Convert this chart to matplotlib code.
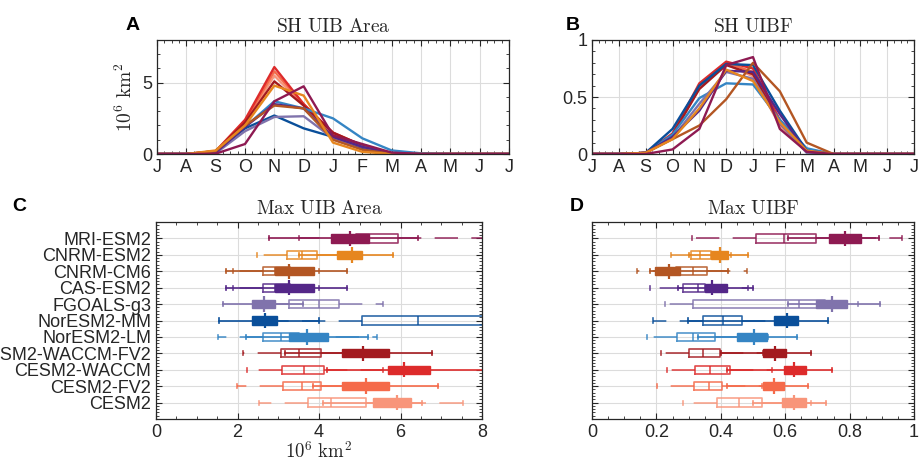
import numpy as np
import matplotlib
matplotlib.use('Agg')
import matplotlib.pyplot as plt
from matplotlib.ticker import MultipleLocator, AutoMinorLocator

plt.rcParams['font.family'] = ['Liberation Sans', 'DejaVu Sans']
plt.rcParams['mathtext.fontset'] = 'cm'

# ---- data ----
MONTHS = ['J', 'A', 'S', 'O', 'N', 'D', 'J', 'F', 'M', 'A', 'M', 'J', 'J']

MODELS = ['MRI-ESM2', 'CNRM-ESM2', 'CNRM-CM6', 'CAS-ESM2', 'FGOALS-g3',
          'NorESM2-MM', 'NorESM2-LM', 'CESM2-WACCM-FV2', 'CESM2-WACCM',
          'CESM2-FV2', 'CESM2']

COLORS = ['#8E1A52', '#E6861F', '#B35623', '#542788', '#8073AC',
          '#0A4F9A', '#3585C4', '#A31A1F', '#DD2B2B', '#F56A4A', '#F8957A']

# monthly climatology, Jul -> Jul
sh_area = [
    [0, 0, 0.02, 0.70, 3.70, 4.75, 1.30, 0.70, 0.10, 0, 0, 0, 0],
    [0, 0, 0.25, 2.00, 4.80, 4.10, 0.80, 0.15, 0.00, 0, 0, 0, 0],
    [0, 0, 0.20, 2.00, 3.40, 3.20, 1.00, 0.30, 0.02, 0, 0, 0, 0],
    [0, 0, 0.10, 1.90, 3.50, 3.20, 1.20, 0.50, 0.05, 0, 0, 0, 0],
    [0, 0, 0.05, 1.60, 2.60, 2.65, 1.10, 0.50, 0.05, 0, 0, 0, 0],
    [0, 0, 0.10, 1.80, 2.70, 1.80, 1.20, 0.40, 0.05, 0, 0, 0, 0],
    [0, 0, 0.10, 1.90, 3.70, 3.20, 2.50, 1.10, 0.25, 0.05, 0, 0, 0],
    [0, 0, 0.20, 2.20, 5.10, 3.40, 1.50, 0.60, 0.05, 0, 0, 0, 0],
    [0, 0, 0.20, 2.40, 6.10, 3.50, 1.50, 0.60, 0.05, 0, 0, 0, 0],
    [0, 0, 0.15, 2.30, 5.80, 3.50, 1.40, 0.50, 0.05, 0, 0, 0, 0],
    [0, 0, 0.15, 2.20, 5.50, 3.40, 1.30, 0.45, 0.05, 0, 0, 0, 0],
]

sh_uibf = [
    [0, 0, 0.00, 0.04, 0.22, 0.78, 0.85, 0.22, 0.02, 0, 0, 0, 0],
    [0, 0, 0.01, 0.13, 0.40, 0.74, 0.64, 0.28, 0.03, 0, 0, 0, 0],
    [0, 0, 0.01, 0.13, 0.25, 0.48, 0.80, 0.55, 0.10, 0, 0, 0, 0],
    [0, 0, 0.01, 0.15, 0.38, 0.73, 0.72, 0.35, 0.02, 0, 0, 0, 0],
    [0, 0, 0.01, 0.14, 0.44, 0.72, 0.66, 0.27, 0.01, 0, 0, 0, 0],
    [0, 0, 0.01, 0.22, 0.60, 0.79, 0.78, 0.38, 0.03, 0, 0, 0, 0],
    [0, 0, 0.01, 0.17, 0.49, 0.62, 0.61, 0.30, 0.05, 0, 0, 0, 0],
    [0, 0, 0.01, 0.17, 0.57, 0.78, 0.70, 0.27, 0.02, 0, 0, 0, 0],
    [0, 0, 0.01, 0.18, 0.62, 0.81, 0.75, 0.30, 0.02, 0, 0, 0, 0],
    [0, 0, 0.01, 0.17, 0.60, 0.80, 0.72, 0.28, 0.02, 0, 0, 0, 0],
    [0, 0, 0.01, 0.16, 0.58, 0.79, 0.68, 0.25, 0.02, 0, 0, 0, 0],
]

# box stats per model: whislo, q1, med, q3, whishi
area_open = [
    [3.50, 4.90, 5.23, 5.93, 8.30],
    [2.49, 3.21, 3.58, 3.94, 4.50],
    [1.90, 2.63, 2.92, 3.30, 4.00],
    [1.90, 2.63, 2.92, 3.30, 4.00],
    [2.90, 3.27, 4.00, 4.50, 5.56],
    [2.90, 5.05, 6.44, 8.30, 9.50],
    [1.53, 2.62, 3.07, 3.50, 5.43],
    [2.14, 3.06, 3.52, 4.04, 5.00],
    [2.24, 3.10, 3.62, 4.13, 5.58],
    [1.99, 3.12, 3.59, 4.04, 4.90],
    [2.53, 3.74, 4.29, 5.15, 7.54],
]
area_fill = [
    [2.77, 4.29, 4.76, 5.23, 6.43],
    [3.50, 4.44, 4.82, 5.06, 5.82],
    [1.72, 2.92, 3.26, 3.88, 4.69],
    [1.72, 2.92, 3.26, 3.88, 4.69],
    [1.64, 2.35, 2.66, 2.92, 3.60],
    [1.55, 2.36, 2.67, 2.97, 4.00],
    [2.20, 3.26, 3.70, 4.23, 5.21],
    [3.16, 4.56, 5.09, 5.73, 6.77],
    [4.20, 5.70, 6.09, 6.72, 8.30],
    [3.85, 4.56, 5.15, 5.72, 6.93],
    [4.10, 5.33, 5.91, 6.25, 6.52],
]
uibf_open = [
    [0.312, 0.509, 0.596, 0.697, 0.962],
    [0.244, 0.309, 0.335, 0.370, 0.433],
    [0.140, 0.260, 0.314, 0.356, 0.482],
    [0.179, 0.283, 0.329, 0.350, 0.485],
    [0.226, 0.314, 0.643, 0.723, 0.827],
    [0.188, 0.345, 0.407, 0.467, 0.600],
    [0.171, 0.265, 0.314, 0.381, 0.547],
    [0.214, 0.302, 0.345, 0.397, 0.530],
    [0.234, 0.319, 0.366, 0.430, 0.560],
    [0.203, 0.317, 0.363, 0.404, 0.527],
    [0.283, 0.389, 0.456, 0.527, 0.679],
]
uibf_fill = [
    [0.610, 0.737, 0.786, 0.835, 0.892],
    [0.300, 0.371, 0.397, 0.423, 0.485],
    [0.181, 0.197, 0.238, 0.273, 0.423],
    [0.267, 0.350, 0.373, 0.418, 0.500],
    [0.609, 0.695, 0.744, 0.793, 0.894],
    [0.297, 0.566, 0.607, 0.640, 0.734],
    [0.330, 0.449, 0.504, 0.542, 0.637],
    [0.400, 0.532, 0.568, 0.604, 0.679],
    [0.420, 0.597, 0.628, 0.664, 0.744],
    [0.420, 0.532, 0.566, 0.597, 0.672],
    [0.499, 0.590, 0.628, 0.666, 0.726],
]

INK = '#262626'
GRID = '#dcdcdc'
TICK_SZ = 13


def style_axes(ax):
    for sp in ax.spines.values():
        sp.set_color(INK)
        sp.set_linewidth(0.9)
    ax.tick_params(which='both', direction='in', top=True, right=True,
                   colors=INK, labelsize=TICK_SZ, labelcolor=INK)
    ax.tick_params(which='major', length=4, width=0.8)
    ax.tick_params(which='minor', length=2, width=0.6)
    ax.grid(True, which='major', color=GRID, lw=0.8)
    ax.set_axisbelow(True)


def set_title(ax, title):
    ax.set_title(r'$\mathrm{' + title.replace(' ', r'\ ') + '}$',
                 fontsize=14, color=INK, pad=6)


def line_panel(ax, data, ymax, yticks, yminor, title):
    x = np.arange(len(MONTHS))
    for row, c in zip(data[::-1], COLORS[::-1]):
        ax.plot(x, row, color=c, lw=1.7)
    ax.set_xlim(0, 12)
    ax.set_ylim(0, ymax)
    ax.set_xticks(x)
    ax.set_xticklabels(MONTHS)
    ax.xaxis.set_minor_locator(AutoMinorLocator(4))
    ax.set_yticks(yticks, [f'{t:g}' for t in yticks])
    ax.yaxis.set_minor_locator(MultipleLocator(yminor))
    style_axes(ax)
    set_title(ax, title)


def box_panel(ax, open_rows, fill_rows, xticks, title):
    pos = np.arange(len(MODELS), 0, -1)
    for p, o, f, c in zip(pos, open_rows, fill_rows, COLORS):
        st_o = [dict(whislo=o[0], q1=o[1], med=o[2], q3=o[3], whishi=o[4], fliers=[])]
        ax.bxp(st_o, positions=[p], widths=0.5, orientation='horizontal',
               manage_ticks=False, showfliers=False, capwidths=0.25,
               boxprops=dict(color=c, lw=1.2, alpha=0.85),
               whiskerprops=dict(color=c, lw=1.2, ls=(0, (14, 8)), alpha=0.85),
               capprops=dict(color=c, lw=1.2, alpha=0.85),
               medianprops=dict(color=c, lw=1.2, alpha=0.85))
        st_f = [dict(whislo=f[0], q1=f[1], med=f[2], q3=f[3], whishi=f[4], fliers=[])]
        ax.bxp(st_f, positions=[p], widths=0.5, orientation='horizontal',
               patch_artist=True, manage_ticks=False, showfliers=False, capwidths=0.25,
               boxprops=dict(facecolor=c, edgecolor=c, lw=1.0),
               whiskerprops=dict(color=c, lw=1.2),
               capprops=dict(color=c, lw=1.2),
               medianprops=dict(color=c, lw=0))
        ax.vlines(f[2], p - 0.47, p + 0.47, color=c, lw=1.6)
    ax.set_xlim(xticks[0], xticks[-1])
    ax.set_ylim(0, len(MODELS) + 1)
    ax.set_yticks(pos)
    ax.set_xticks(xticks, [f'{t:g}' for t in xticks])
    ax.yaxis.set_minor_locator(AutoMinorLocator(5))
    ax.xaxis.set_minor_locator(AutoMinorLocator(4))
    style_axes(ax)
    set_title(ax, title)


fig = plt.figure(figsize=(9.19, 4.61), dpi=100)
axA = fig.add_axes([157 / 919, 1 - 154 / 461, 352 / 919, 114 / 461])
axB = fig.add_axes([592 / 919, 1 - 154 / 461, 322 / 919, 114 / 461])
axC = fig.add_axes([156 / 919, 1 - 419 / 461, 326 / 919, 197 / 461])
axD = fig.add_axes([592 / 919, 1 - 419 / 461, 322 / 919, 197 / 461])

line_panel(axA, sh_area, 8, [0, 5], 1, 'SH UIB Area')
axA.set_ylabel(r'$10^6\ \mathrm{km}^2$', fontsize=14, color=INK, labelpad=4)

line_panel(axB, sh_uibf, 1, [0, 0.5, 1], 0.1, 'SH UIBF')

box_panel(axC, area_open, area_fill, [0, 2, 4, 6, 8], 'Max UIB Area')
axC.set_yticklabels(MODELS, fontsize=TICK_SZ)
axC.set_xlabel(r'$10^6\ \mathrm{km}^2$', fontsize=13.5, color=INK, labelpad=0)

box_panel(axD, uibf_open, uibf_fill, [0, 0.2, 0.4, 0.6, 0.8, 1], 'Max UIBF')
axD.set_yticklabels([])

for ax, letter, dx, dy in [(axA, 'A', -0.09, 1.05), (axB, 'B', -0.08, 1.05),
                           (axC, 'C', -0.44, 1.035), (axD, 'D', -0.07, 1.035)]:
    ax.text(dx, dy, letter, transform=ax.transAxes,
            fontsize=14, fontweight='bold', ha='left', va='bottom')

fig.savefig('out.png', dpi=100)
